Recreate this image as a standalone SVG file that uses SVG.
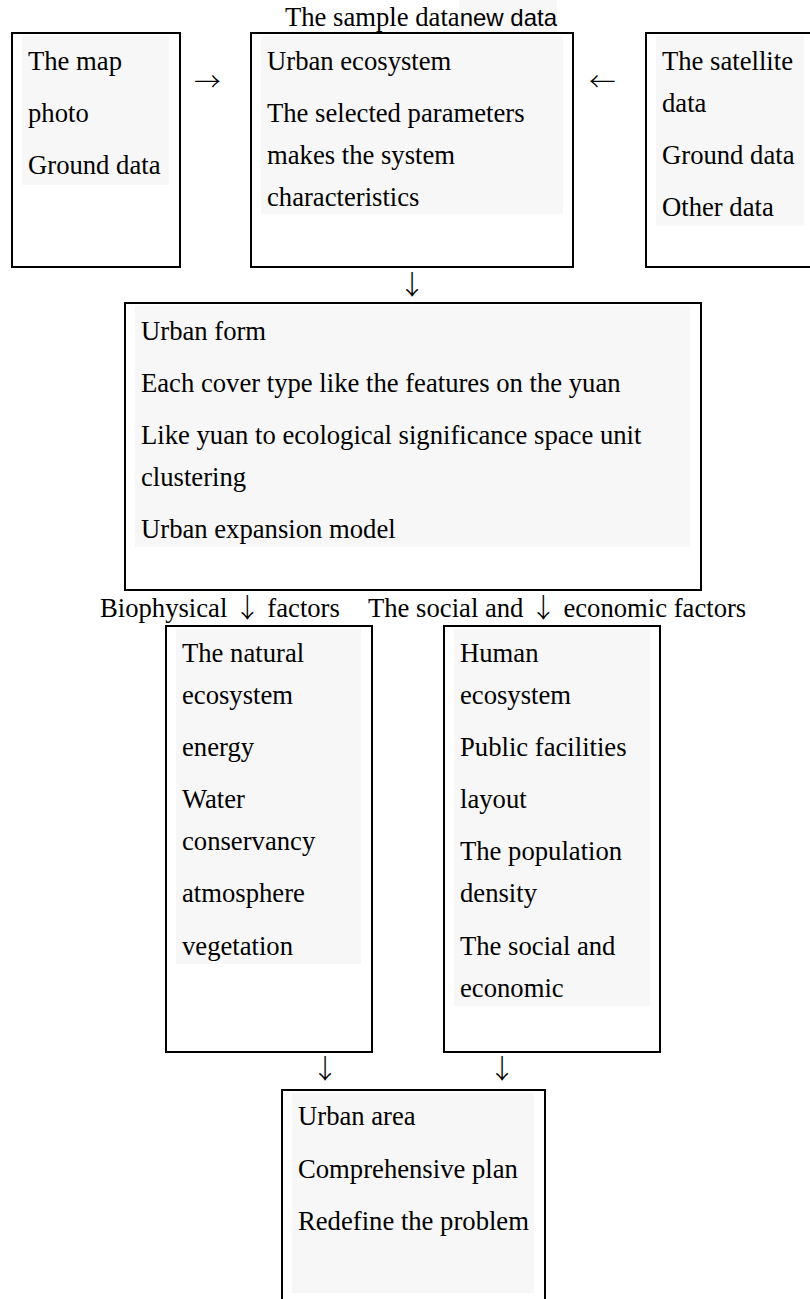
<svg xmlns="http://www.w3.org/2000/svg" width="810" height="1299" viewBox="0 0 810 1299">
<style>
.box{fill:none;stroke:#000;stroke-width:2}
.bg{fill:#f7f7f7}
.t{font-family:"Liberation Serif","Times New Roman",serif;font-size:26.67px;fill:#000}
.s{font-family:"Liberation Sans",Arial,sans-serif;font-size:24px}
.a{font-family:"Noto Sans CJK SC","Liberation Serif",sans-serif;font-size:26.67px;font-weight:300;fill:#000}
.m{text-anchor:middle}
</style>
<rect width="810" height="1299" fill="#fff"/>
<g id="title">
<rect class="bg" x="459" y="0" width="98" height="33"/>
<text class="t" x="285" y="26">The sample data<tspan class="s">new data</tspan></text>
</g>
<g id="node-sources-left">
<rect class="bg" x="22" y="36" width="147" height="149"/>
<rect class="box" x="12" y="33" width="168" height="234"/>
<text class="t" x="28" y="70">The map</text>
<text class="t" x="28" y="122">photo</text>
<text class="t" x="28" y="174">Ground data</text>
</g>
<g id="node-urban-ecosystem">
<rect class="bg" x="261" y="36" width="302" height="178"/>
<rect class="box" x="251" y="33" width="322" height="234"/>
<text class="t" x="267" y="70">Urban ecosystem</text>
<text class="t" x="267" y="122">The selected parameters</text>
<text class="t" x="267" y="164">makes the system</text>
<text class="t" x="267" y="206">characteristics</text>
</g>
<g id="node-sources-right">
<rect class="bg" x="656" y="36" width="148" height="190"/>
<rect class="box" x="646" y="33" width="180" height="234"/>
<text class="t" x="662" y="70">The satellite</text>
<text class="t" x="662" y="112">data</text>
<text class="t" x="662" y="164">Ground data</text>
<text class="t" x="662" y="216">Other data</text>
</g>
<g id="node-urban-form">
<rect class="bg" x="135" y="306" width="555" height="241"/>
<rect class="box" x="125" y="303" width="576" height="287"/>
<text class="t" x="141" y="340">Urban form</text>
<text class="t" x="141" y="392">Each cover type like the features on the yuan</text>
<text class="t" x="141" y="444">Like yuan to ecological significance space unit</text>
<text class="t" x="141" y="486">clustering</text>
<text class="t" x="141" y="538">Urban expansion model</text>
</g>
<g id="node-natural">
<rect class="bg" x="176" y="629" width="185" height="335"/>
<rect class="box" x="166" y="626" width="206" height="426"/>
<text class="t" x="182" y="662">The natural</text>
<text class="t" x="182" y="704">ecosystem</text>
<text class="t" x="182" y="756">energy</text>
<text class="t" x="182" y="808">Water</text>
<text class="t" x="182" y="850">conservancy</text>
<text class="t" x="182" y="902">atmosphere</text>
<text class="t" x="182" y="955">vegetation</text>
</g>
<g id="node-human">
<rect class="bg" x="454" y="629" width="196" height="377"/>
<rect class="box" x="444" y="626" width="216" height="426"/>
<text class="t" x="460" y="662">Human</text>
<text class="t" x="460" y="704">ecosystem</text>
<text class="t" x="460" y="756">Public facilities</text>
<text class="t" x="460" y="808">layout</text>
<text class="t" x="460" y="860">The population</text>
<text class="t" x="460" y="902">density</text>
<text class="t" x="460" y="955">The social and</text>
<text class="t" x="460" y="997">economic</text>
</g>
<g id="node-urban-area">
<rect class="bg" x="292" y="1093" width="242" height="200"/>
<rect class="box" x="282" y="1090" width="263" height="230"/>
<text class="t" x="298" y="1125">Urban area</text>
<text class="t" x="298" y="1178">Comprehensive plan</text>
<text class="t" x="298" y="1230">Redefine the problem</text>
</g>
<g id="connectors">
<text class="a" x="194" y="91">→</text>
<text class="a" x="589" y="91">←</text>
<text class="a m" x="412" y="294">↓</text>
<text class="t" x="100" y="617">Biophysical <tspan class="a">↓</tspan> factors</text>
<text class="t" x="368" y="617">The social and <tspan class="a">↓</tspan> economic factors</text>
<text class="a m" x="325" y="1078">↓</text>
<text class="a m" x="502" y="1078">↓</text>
</g>
</svg>
